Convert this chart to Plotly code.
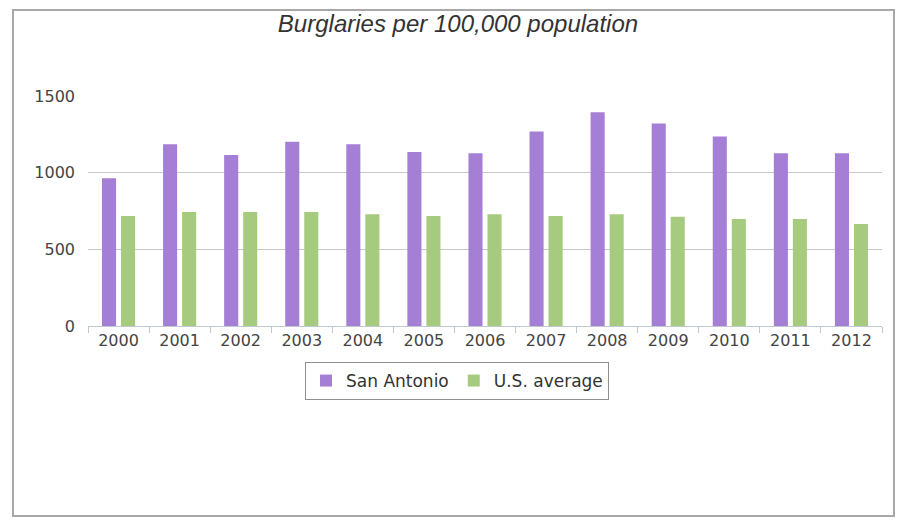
import plotly.graph_objects as go

years = ["2000", "2001", "2002", "2003", "2004", "2005", "2006",
         "2007", "2008", "2009", "2010", "2011", "2012"]
san_antonio = [963, 1186, 1116, 1201, 1186, 1135, 1127, 1269, 1394, 1321, 1236, 1127, 1127]
us_average = [718, 744, 744, 744, 729, 718, 729, 718, 729, 713, 698, 698, 665]
y_ticks = [0, 500, 1000, 1500]

OFF = 8  # page body margin
W, H = 906 - OFF, 523 - OFF
L, R, T, B = 88 - OFF, 24, 96 - OFF, 523 - 326
pw, ph = W - L - R, H - T - B

fig = go.Figure()
fig.add_trace(go.Bar(x=years, y=san_antonio, name="San Antonio",
                     marker=dict(color="#a57fd6", line=dict(width=0))))
fig.add_trace(go.Bar(x=years, y=us_average, name="U.S. average",
                     marker=dict(color="#a7cb7e", line=dict(width=0))))

def px_x(p):
    return (p - OFF - L) / pw

def px_y(p):
    return (H - B - (p - OFF)) / ph

fig.add_shape(type="rect", xref="paper", yref="paper",
              x0=px_x(13), x1=px_x(894), y0=px_y(516), y1=px_y(10),
              line=dict(color="#a8a8a8", width=2), layer="below")

fig.update_layout(
    width=W, height=H,
    margin=dict(l=L, r=R, t=T, b=B),
    paper_bgcolor="white", plot_bgcolor="white",
    barmode="group", bargap=0.377, bargroupgap=0.26,
    title=dict(text="<i>Burglaries per 100,000 population</i>",
               x=(458 - OFF) / W, xanchor="center", y=1 - (24 - OFF) / H, yanchor="middle",
               font=dict(family="Liberation Sans, Arial", size=24, color="#333333")),
    font=dict(family="DejaVu Sans", size=16, color="#444444"),
    xaxis=dict(type="category", showgrid=False, showline=True, linecolor="#c0c8d0",
               ticks="outside", tickson="boundaries", ticklen=6, tickcolor="#c0c8d0",
               tickfont=dict(size=16, color="#444444")),
    yaxis=dict(range=[0, 1500], tickvals=y_ticks, showgrid=True, gridcolor="#c8c8c8",
               gridwidth=1, zeroline=False, showline=False, ticks="",
               tickfont=dict(size=16, color="#444444"), ticklabelstandoff=12),
    legend=dict(orientation="h", x=px_x(457), xanchor="center", y=px_y(362), yanchor="top",
                bordercolor="#909090", borderwidth=1, bgcolor="white",
                font=dict(size=17, color="#333333"), traceorder="normal",
                itemwidth=30),
    showlegend=True,
)

fig.write_html("out.html")
